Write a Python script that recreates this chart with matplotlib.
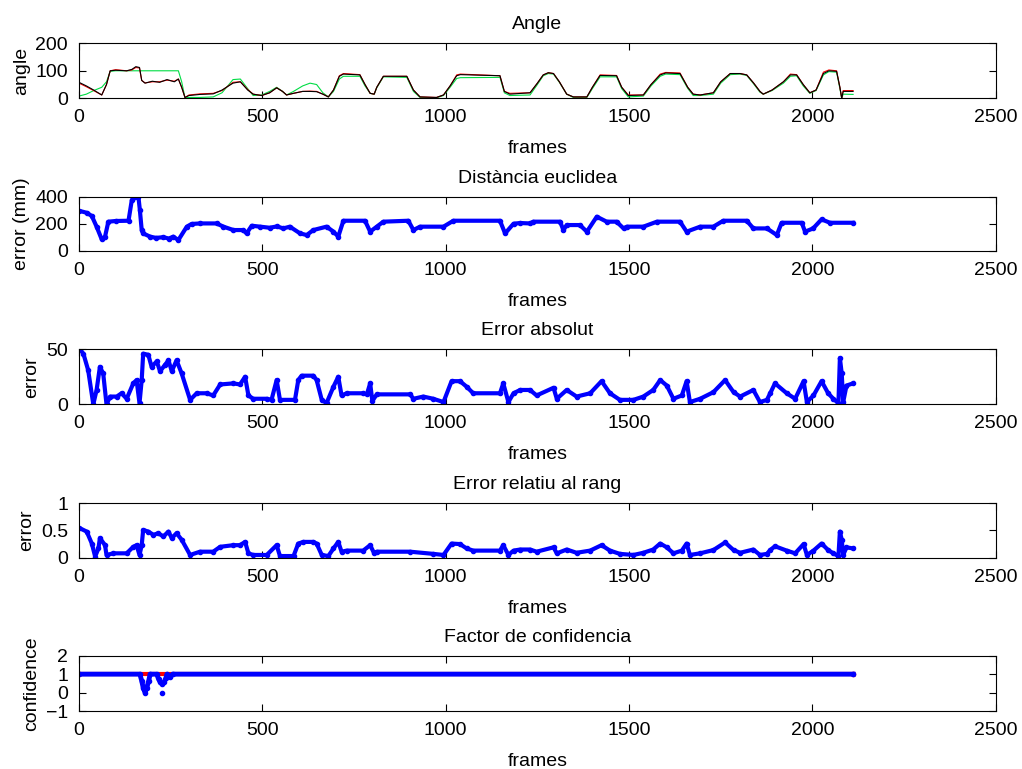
import matplotlib
matplotlib.use('Agg')
import matplotlib.pyplot as plt

plt.rcParams['font.family'] = ['Liberation Sans', 'DejaVu Sans']
plt.rcParams['font.size'] = 14

#ANGLE DATA (frames, ground truth black, red and green estimates)
angle_frames = [0, 20, 40, 62, 75, 85, 100, 130, 144, 155, 165, 171, 180, 200, 220, 240, 260, 271, 280, 289,
                300, 330, 366, 390, 420, 440, 460, 475, 498, 520, 539, 555, 566, 585, 610, 630, 648, 665, 680, 694,
                710, 721, 766, 780, 794, 805, 812, 830, 894, 912, 930, 975, 994, 1012, 1030, 1040, 1148, 1160, 1175, 1230,
                1250, 1266, 1280, 1294, 1310, 1330, 1348, 1385, 1400, 1421, 1466, 1480, 1498, 1539, 1560, 1585, 1600, 1639, 1660, 1675,
                1694, 1730, 1750, 1776, 1803, 1821, 1840, 1857, 1866, 1890, 1921, 1940, 1957, 1975, 1993, 2010, 2030, 2045, 2066, 2075,
                2080, 2084, 2111]
angle_black = [58, 45, 30, 12, 50, 100, 102, 100, 105, 115, 112, 65, 55, 62, 58, 68, 60, 70, 40, 3,
               10, 14, 16, 30, 55, 60, 30, 15, 10, 20, 38, 25, 12, 18, 25, 25, 24, 15, 5, 30,
               80, 88, 85, 50, 18, 15, 40, 80, 80, 30, 5, 3, 12, 45, 82, 86, 82, 25, 15, 20,
               55, 85, 93, 90, 60, 15, 5, 5, 40, 83, 82, 40, 10, 12, 50, 85, 92, 90, 40, 15,
               12, 20, 60, 90, 90, 85, 55, 25, 15, 30, 60, 85, 85, 50, 20, 30, 90, 100, 98, 40,
               0, 25, 25]
angle_red = [55, 42, 28, 12, 50, 100, 104, 100, 103, 112, 110, 65, 56, 60, 60, 66, 62, 70, 40, 3,
             12, 16, 18, 28, 58, 60, 32, 15, 10, 20, 38, 25, 12, 18, 25, 26, 25, 15, 5, 30,
             82, 90, 86, 50, 18, 15, 40, 80, 80, 30, 5, 3, 12, 45, 85, 88, 82, 25, 18, 20,
             55, 85, 93, 90, 60, 15, 5, 5, 40, 85, 83, 40, 12, 12, 50, 88, 94, 92, 40, 15,
             12, 20, 60, 90, 90, 85, 55, 25, 15, 30, 60, 88, 86, 50, 20, 30, 95, 103, 100, 40,
             0, 28, 28]
angle_green = [8, 15, 28, 40, 60, 98, 100, 100, 100, 100, 100, 100, 100, 100, 100, 100, 100, 100, 60, 2,
               3, 3, 5, 20, 68, 70, 35, 10, 12, 25, 40, 25, 12, 25, 45, 55, 50, 20, 5, 25,
               70, 80, 80, 45, 18, 15, 38, 78, 76, 25, 3, 2, 10, 40, 72, 75, 76, 20, 10, 12,
               50, 82, 90, 88, 58, 15, 3, 3, 35, 78, 78, 35, 5, 8, 45, 80, 88, 86, 36, 10,
               10, 15, 55, 86, 88, 83, 52, 22, 15, 28, 55, 80, 82, 45, 18, 28, 85, 97, 95, 35,
               0, 15, 14]

#EUCLIDEAN DISTANCE
dist_frames = [0, 21, 35, 48, 62, 71, 80, 100, 135, 144, 153, 162, 166, 171, 175, 194, 210, 230, 245, 257,
               271, 294, 307, 330, 375, 394, 421, 448, 457, 471, 494, 520, 540, 557, 575, 603, 621, 639, 675, 694,
               707, 721, 780, 794, 812, 830, 898, 912, 930, 994, 1021, 1148, 1162, 1185, 1203, 1230, 1239, 1312, 1321, 1330,
               1366, 1385, 1412, 1439, 1466, 1485, 1494, 1539, 1576, 1639, 1657, 1694, 1730, 1757, 1821, 1839, 1876, 1903, 1916, 1971,
               1980, 2002, 2025, 2048, 2111]
dist_values = [296, 281, 257, 178, 84, 104, 215, 220, 222, 375, 400, 400, 301, 153, 128, 104, 95, 100, 90, 104,
               79, 178, 198, 202, 202, 178, 153, 153, 128, 185, 178, 170, 180, 165, 178, 128, 116, 153, 178, 141,
               104, 222, 222, 141, 178, 215, 222, 153, 178, 178, 222, 222, 128, 200, 205, 202, 215, 215, 153, 190,
               190, 141, 252, 215, 215, 165, 178, 178, 215, 215, 141, 178, 178, 222, 222, 165, 165, 116, 207, 207,
               141, 165, 232, 207, 207]

#ABSOLUTE ERROR
abs_frames = [0, 12, 25, 39, 48, 57, 66, 75, 85, 103, 116, 130, 148, 157, 165, 171, 175, 189, 198, 212,
              221, 235, 244, 253, 266, 280, 303, 321, 348, 366, 385, 421, 439, 453, 462, 475, 512, 525, 539, 548,
              589, 598, 607, 639, 648, 662, 675, 694, 707, 716, 730, 775, 785, 794, 800, 812, 903, 912, 939, 966,
              994, 1016, 1039, 1057, 1075, 1148, 1157, 1171, 1185, 1203, 1230, 1248, 1294, 1303, 1330, 1357, 1394, 1425, 1448, 1475,
              1512, 1539, 1566, 1585, 1603, 1621, 1644, 1657, 1666, 1694, 1730, 1762, 1785, 1803, 1839, 1857, 1876, 1885, 1898, 1930,
              1953, 1976, 1985, 2003, 2025, 2043, 2057, 2071, 2075, 2080, 2084, 2093, 2111]
abs_values = [51, 46, 31, 0, 13, 34, 28, 0, 7, 7, 10, 5, 19, 22, 1, 22, 46, 45, 34, 39,
              30, 36, 40, 30, 40, 28, 4, 10, 10, 8, 18, 19, 18, 25, 8, 5, 5, 4, 22, 4,
              4, 22, 26, 26, 22, 4, 1, 16, 25, 8, 10, 10, 9, 19, 3, 9, 9, 5, 7, 5,
              2, 21, 21, 16, 10, 10, 19, 2, 10, 13, 13, 8, 15, 5, 13, 7, 10, 21, 10, 4,
              4, 7, 13, 22, 17, 5, 8, 21, 2, 5, 11, 22, 11, 7, 13, 2, 4, 10, 19, 10,
              5, 21, 2, 8, 21, 10, 5, 1, 42, 28, 2, 17, 19]

#RELATIVE ERROR
rel_frames = [0, 21, 35, 44, 53, 57, 71, 75, 94, 130, 148, 157, 165, 171, 175, 189, 203, 216, 230, 244,
              253, 266, 280, 303, 330, 366, 385, 421, 439, 453, 462, 475, 512, 539, 548, 585, 598, 612, 639, 648,
              662, 680, 694, 707, 716, 730, 775, 794, 805, 812, 903, 966, 994, 1016, 1039, 1057, 1075, 1148, 1157, 1171,
              1185, 1203, 1230, 1248, 1294, 1303, 1330, 1357, 1394, 1425, 1448, 1475, 1512, 1539, 1566, 1585, 1603, 1621, 1644, 1657,
              1666, 1694, 1730, 1762, 1785, 1803, 1839, 1857, 1876, 1885, 1898, 1930, 1953, 1976, 1985, 2003, 2025, 2043, 2057, 2071,
              2075, 2080, 2084, 2093, 2111]
rel_values = [0.55, 0.48, 0.26, 0.02, 0.17, 0.36, 0.23, 0.05, 0.08, 0.08, 0.2, 0.23, 0.05, 0.23, 0.51, 0.48, 0.42, 0.45, 0.39, 0.48,
              0.36, 0.45, 0.33, 0.05, 0.11, 0.11, 0.2, 0.23, 0.23, 0.29, 0.08, 0.05, 0.05, 0.23, 0.03, 0.03, 0.26, 0.29, 0.29, 0.26,
              0.05, 0.03, 0.17, 0.29, 0.11, 0.13, 0.13, 0.23, 0.08, 0.11, 0.11, 0.07, 0.05, 0.26, 0.25, 0.17, 0.13, 0.13, 0.23, 0.05,
              0.13, 0.15, 0.15, 0.11, 0.19, 0.08, 0.15, 0.09, 0.13, 0.23, 0.13, 0.07, 0.05, 0.09, 0.15, 0.26, 0.19, 0.08, 0.13, 0.26,
              0.05, 0.08, 0.14, 0.28, 0.14, 0.09, 0.15, 0.05, 0.07, 0.14, 0.21, 0.13, 0.08, 0.25, 0.05, 0.13, 0.26, 0.14, 0.08, 0.03,
              0.48, 0.33, 0.05, 0.19, 0.17]

#CONFIDENCE
conf_frames = [0, 166, 171, 175, 180, 185, 190, 194, 212, 217, 222, 227, 232, 237, 240, 248, 255, 2111]
conf_values = [1, 1, 0.64, 0.27, 0, 0.27, 0.64, 1, 1, 0.73, 0.55, 0.45, 0.55, 0.8, 1, 0.82, 1, 1]
conf_out_frames = [227]
conf_out_values = [0]
ref_frames = [0, 2111]
ref_values = [1, 1]

fig = plt.figure(figsize=(10.22, 7.69), dpi=100)

left = 0.0773
width = 0.897
bottoms = [0.8722, 0.674, 0.4743, 0.2748, 0.0754]
heights = [0.0715, 0.0702, 0.0715, 0.0707, 0.0719]
axes = []
for b, h in zip(bottoms, heights):
    axes.append(fig.add_axes([left, b, width, h]))

def style(ax, title, ylabel, ylim, yticks):
    ax.set_xlim(0, 2500)
    ax.set_ylim(ylim)
    ax.set_xticks([0, 500, 1000, 1500, 2000, 2500])
    ax.set_yticks(yticks)
    ax.tick_params(direction='in', top=True, right=True, length=5, width=0.8, pad=8, labelsize=14)
    ax.set_title(title, fontsize=14, pad=10)
    ax.set_xlabel('frames', fontsize=14, labelpad=10)
    ax.set_ylabel(ylabel, fontsize=14)
    for s in ax.spines.values():
        s.set_linewidth(0.8)

ax = axes[0]
ax.plot(angle_frames, angle_green, color='#00dd44', linewidth=0.8)
ax.plot(angle_frames, angle_red, color='red', linewidth=0.8)
ax.plot(angle_frames, angle_black, color='black', linewidth=0.8)
style(ax, 'Angle', 'angle', (0, 200), [0, 100, 200])

ax = axes[1]
ax.plot(dist_frames, dist_values, 'b.-', linewidth=3, markersize=6)
style(ax, 'Distància euclidea', 'error (mm)', (0, 400), [0, 200, 400])

ax = axes[2]
ax.plot(abs_frames, abs_values, 'b.-', linewidth=3, markersize=6)
style(ax, 'Error absolut', 'error', (0, 50), [0, 50])

ax = axes[3]
ax.plot(rel_frames, rel_values, 'b.-', linewidth=3, markersize=6)
style(ax, 'Error relatiu al rang', 'error', (0, 1), [0, 0.5, 1])
ax.set_yticklabels(['0', '0.5', '1'])

ax = axes[4]
ax.plot(ref_frames, ref_values, 'r.-', linewidth=3, markersize=6)
ax.plot(conf_frames, conf_values, 'b.-', linewidth=3.5, markersize=6)
ax.plot(conf_out_frames, conf_out_values, 'b.', markersize=6)
style(ax, 'Factor de confidencia', 'confidence', (-1, 2), [-1, 0, 1, 2])

plt.savefig('out.png', dpi=100)
